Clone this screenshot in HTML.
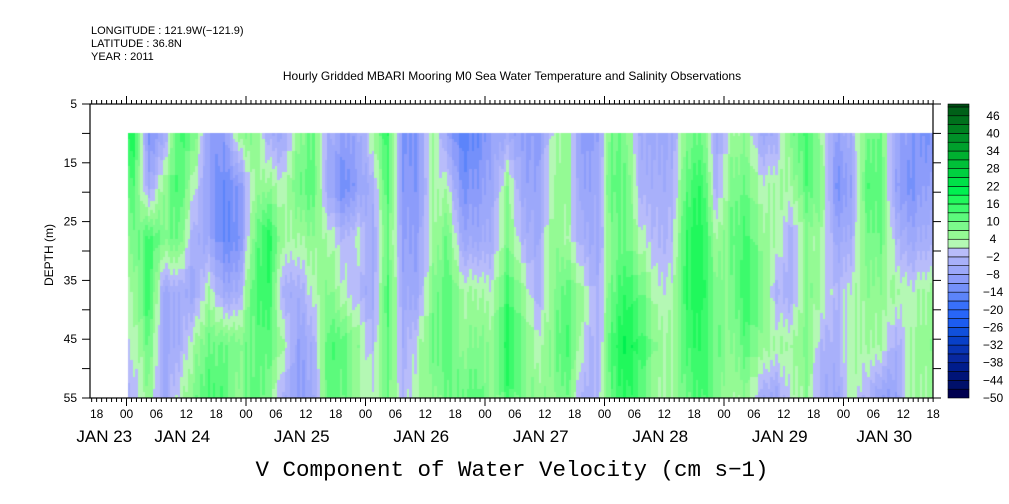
<!DOCTYPE html>
<html><head><meta charset="utf-8">
<style>
html,body{margin:0;padding:0;background:#fff;}
#wrap{position:relative;width:1009px;height:504px;overflow:hidden;}
svg{position:absolute;left:0;top:0;}
canvas{position:absolute;left:0;top:0;}
text{font-family:"Liberation Sans",sans-serif;fill:#000;}
</style></head>
<body>
<div id="wrap">
<canvas id="hm" width="1009" height="504"></canvas>
<svg id="s" width="1009" height="504" xmlns="http://www.w3.org/2000/svg">
<text x="91" y="34" font-size="11">LONGITUDE : 121.9W(−121.9)</text>
<text x="91" y="47" font-size="11">LATITUDE : 36.8N</text>
<text x="91" y="60" font-size="11">YEAR : 2011</text>
<text x="512" y="80" font-size="12" text-anchor="middle">Hourly Gridded MBARI Mooring M0 Sea Water Temperature and Salinity Observations</text>
<text x="512" y="476" font-size="22.5" text-anchor="middle" textLength="513" lengthAdjust="spacingAndGlyphs" style="font-family:'Liberation Mono',monospace">V Component of Water Velocity (cm s−1)</text>
<text transform="translate(53,255) rotate(-90)" font-size="12" text-anchor="middle">DEPTH (m)</text>
<g id="axes"></g>
<g id="cbar"></g>
</svg>
</div>
<script>
// ---- data ----
const depths = [10, 19, 28, 37, 46, 55];
const columnHours = [1.5,4.5,7.5,10.5,13.5,16.5,19.5,22.5,25.5,28.5,31.5,34.5,37.5,40.5,43.5,46.5,49.5,52.5,55.5,58.5,61.5,64.5,67.5,70.5,73.5,76.5,79.5,82.5,85.5,88.5,91.5,94.5,97.5,100.5,103.5,106.5,109.5,112.5,115.5,118.5,121.5,124.5,127.5,130.5,133.5,136.5,139.5,142.5,145.5,148.5,151.5,154.5,157.5,160.5];
const vAt10 = [18,-12,-6,14,10,-8,-10,6,8,-4,-6,6,10,-4,-8,-6,4,16,-12,-10,6,-8,-16,-14,-8,-6,-8,-10,2,6,-10,-8,10,8,-6,-6,-6,8,10,-6,4,6,-6,-4,8,14,4,-8,-4,8,10,-6,-10,-12];
const vAt19 = [12,-6,6,14,2,-8,-14,-10,4,6,2,10,12,-6,-14,-8,-4,14,-10,-10,4,2,-12,-10,-6,6,-6,-8,4,6,-8,-6,12,10,-4,-4,-4,12,16,-4,8,10,2,4,4,12,8,-12,-8,12,12,-8,-12,-8];
const vAt28 = [8,14,8,10,-4,-6,-14,-12,8,18,4,4,6,4,-2,2,-6,10,-8,-8,4,10,-6,-6,-4,8,-2,-6,6,4,-4,-6,8,10,2,-2,-2,16,18,4,10,14,6,4,-4,6,4,-6,-4,8,10,-2,-6,-4];
const vAt37 = [4,16,-6,-4,-6,4,-6,-4,12,16,-4,-4,2,8,2,-2,-6,14,-6,-6,8,12,4,4,2,14,6,-4,6,12,4,-4,10,16,10,2,2,16,18,8,8,16,8,-2,-4,8,4,-2,2,6,6,4,2,4];
const vAt46 = [2,10,-6,-4,4,10,10,8,10,12,4,-8,-4,12,12,6,-2,12,-4,2,10,12,6,8,6,18,10,2,8,14,2,-4,14,20,14,6,4,14,16,10,6,12,6,4,4,8,-2,-4,4,4,4,-4,4,6];
const vAt55 = [-2,6,-6,2,8,14,12,6,12,8,-4,-8,-6,12,10,4,2,10,-2,4,6,10,10,12,4,14,8,6,6,10,-4,-2,12,16,12,4,4,10,14,8,4,6,-4,-6,2,6,-4,-6,4,-2,-8,-8,4,4];
const colorbarTicks = [46,40,34,28,22,16,10,4,-2,-8,-14,-20,-26,-32,-38,-44,-50];
const hourLabels = ["18","00","06","12"];
const dayLabels = ["JAN 23","JAN 24","JAN 25","JAN 26","JAN 27","JAN 28","JAN 29","JAN 30"];
const depthLabels = [5,15,25,35,45,55];

// ---- scales ----
const X0 = 90, X1 = 933, Y0 = 104, Y1 = 398;
const pxPerHour = 119.5/24;
const xZero = 126.5; // JAN 24 00
function xs(h){ return xZero + h*pxPerHour; }
function ys(d){ return Y0 + (d-5)*(Y1-Y0)/50; }
const cbTop=104, cbBot=398, cbX=948, cbW=21;
function cy(v){ return cbBot - (v+50)*(cbBot-cbTop)/100; }

const palNeg = ["#000050","#00106a","#001478","#001c8c","#0828a0","#0834b4","#0840c8","#1050dc","#1c5cf0","#2866f8","#3870fa","#5c84fa","#7490fa","#8c9cfa","#9ca8fa","#a8b0fa","#b8bcfa"];
const palPos = ["#b4f8b4","#94fa94","#7cfa8c","#5cfa7c","#3cfa6c","#20f85c","#00f050","#00e048","#00d040","#00c038","#00b030","#00a02c","#009028","#008020","#00701c","#006018","#004c14"];
function color(v){
  let b = Math.floor((v+50)/3);
  if(b<0)b=0;
  if(b<17) return palNeg[b];
  b-=17; if(b>16)b=16; return palPos[b];
}

// ---- heatmap ----
const rows = [vAt10,vAt19,vAt28,vAt37,vAt46,vAt55];
const ctx = document.getElementById('hm').getContext('2d');
function val(h,d){
  let n=columnHours.length;
  let i=0; while(i<n-2 && columnHours[i+1]<h) i++;
  let tx=(h-columnHours[i])/(columnHours[i+1]-columnHours[i]); tx=Math.max(0,Math.min(1,tx));
  let j=0; while(j<depths.length-2 && depths[j+1]<d) j++;
  let ty=(d-depths[j])/(depths[j+1]-depths[j]); ty=Math.max(0,Math.min(1,ty));
  const a=rows[j][i]*(1-tx)+rows[j][i+1]*tx;
  const b=rows[j+1][i]*(1-tx)+rows[j+1][i+1]*tx;
  return a*(1-ty)+b*ty;
}
const hStart=0.3, hEnd=(X1-xZero)/pxPerHour;
let colIdx=0;
for(let h=hStart; h<hEnd; h+=0.5){
  const xa=Math.round(xs(h)), xb=Math.min(X1,Math.round(xs(h+0.5)));
  const jitter=((colIdx*7)%5-2)*0.6; colIdx++;
  for(let d=10; d<55; d+=0.5){
    const ya=Math.round(ys(d)), yb=Math.round(ys(d+0.5));
    ctx.fillStyle=color(val(h+0.25,d+0.25)+jitter);
    ctx.fillRect(xa,ya,xb-xa,yb-ya);
  }
}

// ---- axes ----
const NS="http://www.w3.org/2000/svg";
const ax=document.getElementById('axes');
function mk(tag,attrs,parent){const e=document.createElementNS(NS,tag);for(const k in attrs)e.setAttribute(k,attrs[k]);(parent||ax).appendChild(e);return e;}
let frame=mk('rect',{x:X0,y:Y0,width:X1-X0,height:Y1-Y0,fill:'none',stroke:'#000','stroke-width':1.2});


for(let h=Math.ceil((X0-xZero)/pxPerHour); xs(h)<=X1+0.5; h++){
  const x=xs(h);
  const major=((h%24)+24)%24===0;
  const len=major?8:4;
  mk('line',{x1:x,x2:x,y1:Y1,y2:Y1+len,stroke:'#000','stroke-width':1});
  mk('line',{x1:x,x2:x,y1:Y0,y2:Y0-len,stroke:'#000','stroke-width':1});
  const hh=((h%24)+24)%24;
  if(hh%6===0){
    const t=mk('text',{x:x,y:418,'font-size':12,'text-anchor':'middle'});
    t.textContent=hourLabels[(hh/6+1)%4];
    
    
  }
}
for(let k=0;k<dayLabels.length;k++){
  const a=Math.max(X0,xs((k-1)*24)), b=Math.min(X1,xs(k*24));
  const t=mk('text',{x:(a+b)/2-4,y:442,'font-size':17,'text-anchor':'middle'});
  t.textContent=dayLabels[k];
  
  
}
for(let d=5; d<=55; d+=5){
  const y=ys(d);
  mk('line',{x1:X0-8,x2:X0,y1:y,y2:y,stroke:'#000','stroke-width':1});
  mk('line',{x1:X1,x2:X1+8,y1:y,y2:y,stroke:'#000','stroke-width':1});
}
depthLabels.forEach(d=>{
  const t=mk('text',{x:77,y:ys(d)+4,'font-size':12,'text-anchor':'end'});
  t.textContent=d;
  
  
});
const cb=document.getElementById('cbar');
for(let v=-50; v<50; v+=3){
  const ya=cy(Math.min(50,v+3)), yb=cy(v);
  const r=mk('rect',{x:cbX,y:ya,width:cbW,height:yb-ya,fill:color(v+1.5),stroke:'#000','stroke-width':0.6},cb);
  
  
}
colorbarTicks.forEach(v=>{
  const t=mk('text',{x:993,y:cy(v)+4,'font-size':12,'text-anchor':'middle'},cb);
  t.textContent=String(v).replace('-','−');
  
  
});
</script>
</body></html>
